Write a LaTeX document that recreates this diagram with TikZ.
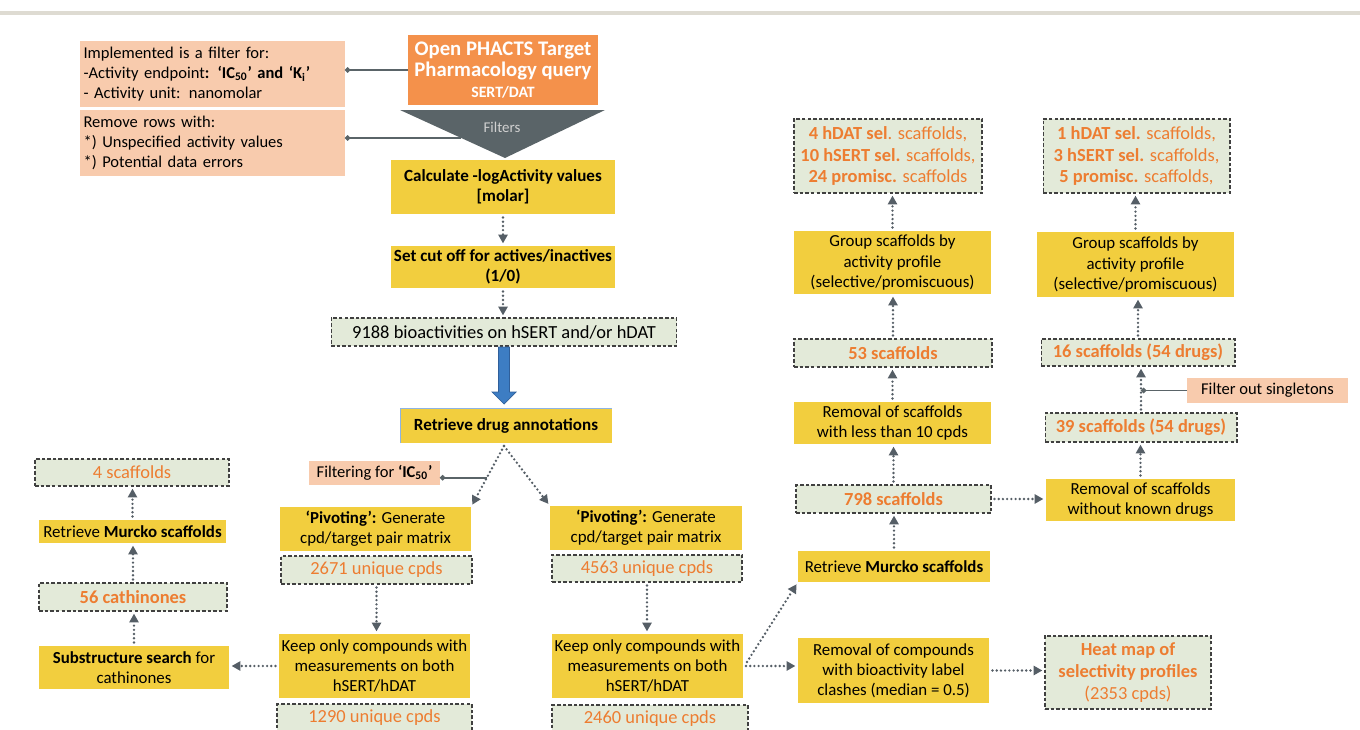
\documentclass[tikz,border=0pt]{standalone}
\usepackage{fontspec}
\setmainfont{Carlito}
\usetikzlibrary{arrows.meta,calc}
\definecolor{yel}{HTML}{F2CE3E}
\definecolor{sal}{HTML}{F8CBAD}
\definecolor{dgreen}{HTML}{E3EAD9}
\definecolor{dgray}{HTML}{404040}
\definecolor{orng}{HTML}{ED7D31}
\definecolor{obox}{HTML}{F4914B}
\definecolor{tgray}{HTML}{5A6468}
\definecolor{agray}{HTML}{555E66}
\definecolor{blueA}{HTML}{3D7DC3}
\definecolor{blueE}{HTML}{2F5F9A}
\definecolor{topline}{HTML}{DEDBD2}
\definecolor{lblue}{HTML}{8EB4E3}
\tikzset{
  base/.style={inner sep=0pt, outer sep=0pt, align=center},
  ybox/.style={base, fill=yel, font=\fontsize{9.6}{11.4}\selectfont},
  sbox/.style={base, fill=sal, font=\fontsize{9.4}{11.4}\selectfont},
  bfy/.style={font=\fontsize{9.7}{11.4}\selectfont\bfseries},
  orbox/.style={base, fill=obox, text=white, font=\fontsize{11.8}{12}\selectfont\bfseries},
  dbox/.style={base, fill=dgreen, draw=dgray, line width=0.6pt, dash pattern=on 2pt off 1.2pt, font=\fontsize{10.5}{12.5}\selectfont, text=orng},
  dbb/.style={font=\fontsize{10.5}{12.5}\selectfont\bfseries},
  dar/.style={draw=agray, line width=1.5pt, line cap=round, dash pattern=on 0pt off 2.4pt, -{Triangle[length=5pt,width=5.2pt]}, shorten <=2pt, shorten >=1.5pt},
  sline/.style={draw=tgray, line width=0.9pt, -{Circle[length=3pt]}},
}
\begin{document}
\begin{tikzpicture}[x=0.02cm,y=-0.02cm]
\useasboundingbox (0,0) rectangle (1360,730);
\draw[topline, line width=0.08cm] (0,13) -- (1360,13);

% top-left
\node[sbox, minimum width=5.3cm, minimum height=1.32cm, text width=5.16cm, inner xsep=0.07cm, align=left] (A) at (212.5,74)
 {Implemented is a filter for:\\-Activity endpoint\textbf{: ‘IC\textsubscript{50}’ and ‘K\textsubscript{i}’}\\- Activity unit: nanomolar};
\node[sbox, minimum width=5.3cm, minimum height=1.32cm, text width=5.16cm, inner xsep=0.07cm, align=left] (B) at (212.5,143)
 {Remove rows with:\\{}*) Unspecified activity values\\{}*) Potential data errors};
\node[orbox, minimum width=3.8cm, minimum height=1.4cm] (OP) at (503,70) {Open PHACTS Target\\Pharmacology query\\{\fontsize{9}{11}\selectfont SERT/DAT}};
\fill[tgray] (400,110) -- (605,110) -- (505,158) -- cycle;
\node[font=\fontsize{8.5}{10}\selectfont, text=black!18] (filt) at (502,127) {Filters};
\coordinate (triL) at (461,138);
\draw[sline] (OP.west) -- (OP.west -| A.east);
\draw[sline] (triL) -- (triL -| B.east);

% central column
\node[ybox, bfy, minimum width=4.48cm, minimum height=1.08cm] (Calc) at (503,187) {Calculate -logActivity values\\{[molar]}};
\node[ybox, bfy, minimum width=4.48cm, minimum height=0.84cm] (Cut) at (503,267) {Set cut off for actives/inactives\\(1/0)};
\node[dbox, minimum width=6.92cm, minimum height=0.56cm, text=black] (N9188) at (504,332) {9188 bioactivities on hSERT and/or hDAT};
\node[ybox, bfy, minimum width=4.24cm, minimum height=0.7cm] (Retr) at (506,425.5) {Retrieve drug annotations};
\draw[lblue, line width=0.5pt] (Retr.south west) -- (Retr.north west) -- (Retr.north east);
\draw[dar] (Calc.south) -- (Calc.south |- Cut.north);
\draw[dar] (Cut.south) -- (Cut.south |- N9188.north);
\coordinate (ns) at ($(N9188.south)+(0,1)$);
\coordinate (rn) at (ns |- Retr.north);
\filldraw[fill=blueA, draw=blueE, line width=0.4pt]
  ($(ns)+(-5.5,0)$) -- ($(rn)+(-5.5,-16)$) -- ($(rn)+(-12,-16)$) -- ($(rn)+(0,-4)$)
  -- ($(rn)+(12,-16)$) -- ($(rn)+(5.5,-16)$) -- ($(ns)+(5.5,0)$) -- cycle;

% left branch
\node[sbox, minimum width=2.62cm, minimum height=0.48cm] (FiltIC) at (374.5,473) {Filtering for \textbf{‘IC\textsubscript{50}’}};
\node[ybox, minimum width=3.82cm, minimum height=0.88cm] (PivL) at (375.5,529) {\textbf{‘Pivoting’:} Generate\\cpd/target pair matrix};
\node[dbox, minimum width=3.82cm, minimum height=0.56cm] (U2671) at (376.5,570) {2671 unique cpds};
\node[ybox, minimum width=3.82cm, minimum height=1.28cm] (KeepL) at (374.5,666) {Keep only compounds with\\measurements on both\\hSERT/hDAT};
\node[dbox, minimum width=3.9cm, minimum height=0.56cm] (U1290) at (374.5,718) {1290 unique cpds};
\node[ybox, minimum width=3.8cm, minimum height=0.86cm] (Sub) at (134,667.5) {\textbf{Substructure search} for\\cathinones};
\node[dbox, dbb, minimum width=3.76cm, minimum height=0.56cm] (Cath) at (133,597) {56 cathinones};
\node[ybox, minimum width=3.74cm, minimum height=0.46cm] (MurL) at (132.5,531.5) {Retrieve \textbf{Murcko scaffolds}};
\node[dbox, minimum width=3.88cm, minimum height=0.54cm] (Sc4) at (132,472.5) {4 scaffolds};

\coordinate (rs) at ($(Retr.south)+(-2,3)$);
\draw[dar, shorten <=0pt] (rs) -- (PivL.north east);
\coordinate (fj) at ($(rs)!0.52!(PivL.north east)$);
\draw[sline] (fj) -- (fj -| FiltIC.east);
\draw[dar] (U2671.south) -- (U2671.south |- KeepL.north);
\draw[dar] (KeepL.west) -- (KeepL.west -| Sub.east);
\draw[dar] (Sub.north) -- (Sub.north |- Cath.south);
\draw[dar] (Cath.north) -- (Cath.north |- MurL.south);
\draw[dar] (MurL.north) -- (MurL.north |- Sc4.south);

% right branch
\node[ybox, minimum width=3.84cm, minimum height=0.88cm] (PivR) at (646,528) {\textbf{‘Pivoting’:} Generate\\cpd/target pair matrix};
\node[dbox, minimum width=3.8cm, minimum height=0.54cm] (U4563) at (647,568.5) {4563 unique cpds};
\node[ybox, minimum width=3.82cm, minimum height=1.28cm] (KeepR) at (647.5,666) {Keep only compounds with\\measurements on both\\hSERT/hDAT};
\node[dbox, minimum width=3.92cm, minimum height=0.54cm] (U2460) at (650,718.5) {2460 unique cpds};
\draw[dar, shorten <=0pt] (rs) -- (PivR.north west);
\draw[dar] (U4563.south) -- (U4563.south |- KeepR.north);

\node[ybox, minimum width=3.84cm, minimum height=0.62cm] (MurR) at (894,566.5) {Retrieve \textbf{Murcko scaffolds}};
\node[ybox, minimum width=3.82cm, minimum height=1.3cm] (RemC) at (893.5,670.5) {Removal of compounds\\with bioactivity label\\clashes (median = 0.5)};
\node[dbox, minimum width=3.32cm, minimum height=1.46cm] (Heat) at (1128,672.5) {\textbf{Heat map of}\\\textbf{selectivity profiles}\\(2353 cpds)};
\coordinate (kr) at ($(KeepR.east)+(3,0)$);
\draw[dar, shorten <=0pt] (kr) -- (kr -| RemC.west);
\draw[dar, shorten <=0pt] ($(kr)+(1,-4)$) -- (MurR.south west);
\draw[dar] (RemC.east) -- (RemC.east -| Heat.west);

\node[dbox, dbb, minimum width=3.9cm, minimum height=0.56cm] (S798) at (893.5,499) {798 scaffolds};
\node[ybox, minimum width=3.94cm, minimum height=0.84cm] (RemL) at (892.5,423) {Removal of scaffolds\\with less than 10 cpds};
\node[dbox, dbb, minimum width=3.96cm, minimum height=0.56cm] (S53) at (893,353) {53 scaffolds};
\node[ybox, minimum width=3.94cm, minimum height=1.26cm] (GrpL) at (892.5,262.5) {Group scaffolds by\\activity profile\\(selective/promiscuous)};
\node[dbox, minimum width=3.76cm, minimum height=1.48cm] (SelL) at (888,156) {\textbf{4 hDAT sel}. scaffolds,\\\textbf{10 hSERT sel.} scaffolds,\\\textbf{24 promisc.} scaffolds};
\draw[dar] (MurR.north) -- (MurR.north |- S798.south);
\draw[dar] (S798.north) -- (S798.north |- RemL.south);
\draw[dar] (RemL.north) -- (RemL.north |- S53.south);
\draw[dar] (S53.north) -- (S53.north |- GrpL.south);
\draw[dar] (GrpL.north) -- (GrpL.north |- SelL.south);

\node[ybox, minimum width=3.78cm, minimum height=0.84cm] (RemD) at (1140.5,500) {Removal of scaffolds\\without known drugs};
\node[dbox, dbb, minimum width=3.84cm, minimum height=0.58cm] (S39) at (1141,427.5) {39 scaffolds (54 drugs)};
\node[sbox, minimum width=3.22cm, minimum height=0.5cm] (Single) at (1267.5,390.5) {Filter out singletons};
\node[dbox, dbb, minimum width=3.88cm, minimum height=0.54cm] (S16) at (1138,352.5) {16 scaffolds (54 drugs)};
\node[ybox, minimum width=3.94cm, minimum height=1.3cm] (GrpR) at (1135.5,264.5) {Group scaffolds by\\activity profile\\(selective/promiscuous)};
\node[dbox, minimum width=3.74cm, minimum height=1.48cm] (SelR) at (1136.5,156) {\textbf{1 hDAT sel.} scaffolds,\\\textbf{3 hSERT sel.} scaffolds,\\\textbf{5 promisc.} scaffolds,};
\draw[dar] (S798.east) -- (S798.east -| RemD.west);
\draw[dar] (RemD.north) -- (RemD.north |- S39.south);
\draw[dar] (S39.north) -- (S39.north |- S16.south);
\draw[dar] (S16.north) -- (S16.north |- GrpR.south);
\draw[dar] (GrpR.north) -- (GrpR.north |- SelR.south);
\draw[sline] (Single.west) -- (Single.west -| S39.north);
\end{tikzpicture}
\end{document}
